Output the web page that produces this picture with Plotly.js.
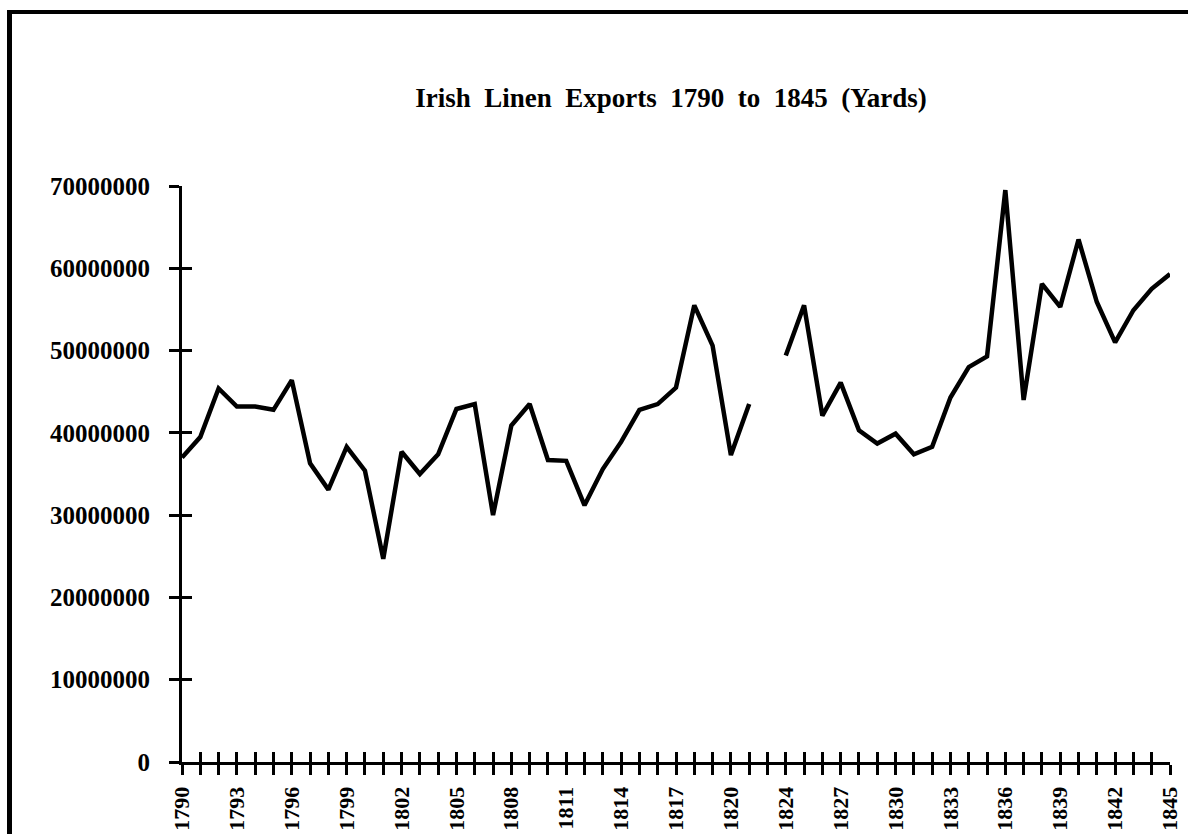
<!DOCTYPE html>
<html>
<head>
<meta charset="utf-8">
<script src="https://cdn.plot.ly/plotly-3.0.1.min.js"></script>
<style>
  html, body { margin: 0; padding: 0; background: #fff; }
  #wrap { position: relative; width: 1188px; height: 834px; overflow: hidden; }
  #chart { position: absolute; left: 0; top: 0; width: 1188px; height: 834px; }
  #frame { position: absolute; left: 7px; top: 10px; width: 1200px; height: 900px;
           border-top: 4px solid #000; border-left: 5px solid #000; pointer-events: none; }
</style>
</head>
<body>
<div id="wrap">
  <div id="chart"></div>
  <div id="frame"></div>
</div>
<script>
// Years on the category axis (1823 is absent from the source axis)
const years = [
  "1790","1791","1792","1793","1794","1795","1796","1797","1798","1799",
  "1800","1801","1802","1803","1804","1805","1806","1807","1808","1809",
  "1810","1811","1812","1813","1814","1815","1816","1817","1818","1819",
  "1820","1821","1822",
  "1824","1825","1826","1827","1828","1829","1830","1831","1832","1833",
  "1834","1835","1836","1837","1838","1839","1840","1841","1842","1843",
  "1844","1845"
];

// Linen exports in yards (1822 missing)
const linenExports = [
  37000000, 39500000, 45400000, 43200000, 43200000, 42800000, 46400000, 36300000, 33100000, 38300000,
  35400000, 24700000, 37700000, 35000000, 37400000, 42900000, 43500000, 30000000, 40900000, 43500000,
  36700000, 36600000, 31200000, 35600000, 38900000, 42800000, 43500000, 45500000, 55500000, 50600000,
  37300000, 43500000, null,
  49400000, 55500000, 42100000, 46100000, 40300000, 38700000, 39900000, 37400000, 38300000, 44300000,
  48000000, 49300000, 69500000, 44000000, 58100000, 55300000, 63500000, 55900000, 51000000, 54900000,
  57500000, 59300000
];

// Tick labels: every third category is labelled
const tickLabels = years.map((y, i) => (i % 3 === 0 ? y : ""));

const titleText = "Irish\u00A0 Linen\u00A0 Exports\u00A0 1790\u00A0 to\u00A0 1845\u00A0 (Yards)";

const serif = "Liberation Serif, Times New Roman, serif";
const yMax = 70000000;
const lastIdx = years.length - 1;

const traces = [
  {
    x: years, y: linenExports, type: "scatter", mode: "lines",
    line: { color: "#000", width: 4.5 },
    connectgaps: false, hoverinfo: "skip", showlegend: false
  },
  // invisible helpers so the overlay axes (inner half of the crossing ticks) get drawn
  {
    x: years, y: linenExports, type: "scatter", mode: "lines",
    xaxis: "x2", yaxis: "y",
    line: { color: "rgba(0,0,0,0)", width: 0 },
    hoverinfo: "skip", showlegend: false
  },
  {
    x: years, y: linenExports, type: "scatter", mode: "lines",
    xaxis: "x", yaxis: "y2",
    line: { color: "rgba(0,0,0,0)", width: 0 },
    hoverinfo: "skip", showlegend: false
  }
];

const layout = {
  width: 1188, height: 834,
  margin: { l: 182, r: 18, t: 186, b: 72, pad: 0 },
  paper_bgcolor: "#fff", plot_bgcolor: "#fff",
  showlegend: false,
  title: {
    text: titleText,
    font: { family: serif, size: 27, color: "#000", weight: "bold" },
    xref: "paper", x: 0.495, xanchor: "center",
    yref: "container", y: 1 - 98 / 834, yanchor: "middle"
  },
  xaxis: {
    type: "category", categoryorder: "array", categoryarray: years,
    range: [0, lastIdx],
    showline: true, linecolor: "#000", linewidth: 3,
    ticks: "outside", ticklen: 10, tickwidth: 3, tickcolor: "#000",
    tickmode: "array", tickvals: years, ticktext: tickLabels,
    tickangle: -90, ticklabelstandoff: 3,
    tickfont: { family: serif, size: 22, color: "#000", weight: "bold" },
    showgrid: false, zeroline: false, fixedrange: true
  },
  yaxis: {
    range: [0, yMax], tick0: 0, dtick: 10000000, tickformat: "d",
    showline: true, linecolor: "#000", linewidth: 3,
    ticks: "outside", ticklen: 10, tickwidth: 3, tickcolor: "#000",
    ticklabelstandoff: 14,
    tickfont: { family: serif, size: 25, color: "#000", weight: "bold" },
    showgrid: false, zeroline: false, fixedrange: true
  },
  xaxis2: {
    type: "category", categoryorder: "array", categoryarray: years,
    overlaying: "x", anchor: "y", side: "bottom",
    range: [-0.002, lastIdx + 0.002],
    showline: false,
    ticks: "inside", ticklen: 10, tickwidth: 3, tickcolor: "#000",
    tickmode: "array", tickvals: years,
    showticklabels: false, showgrid: false, zeroline: false, fixedrange: true
  },
  yaxis2: {
    overlaying: "y", anchor: "x", side: "left",
    range: [-yMax * 0.0002, yMax * 1.0002], tick0: 0, dtick: 10000000,
    showline: false,
    ticks: "inside", ticklen: 10, tickwidth: 3, tickcolor: "#000",
    showticklabels: false, showgrid: false, zeroline: false, fixedrange: true
  }
};

Plotly.newPlot("chart", traces, layout, { staticPlot: true, displayModeBar: false });
</script>
</body>
</html>
